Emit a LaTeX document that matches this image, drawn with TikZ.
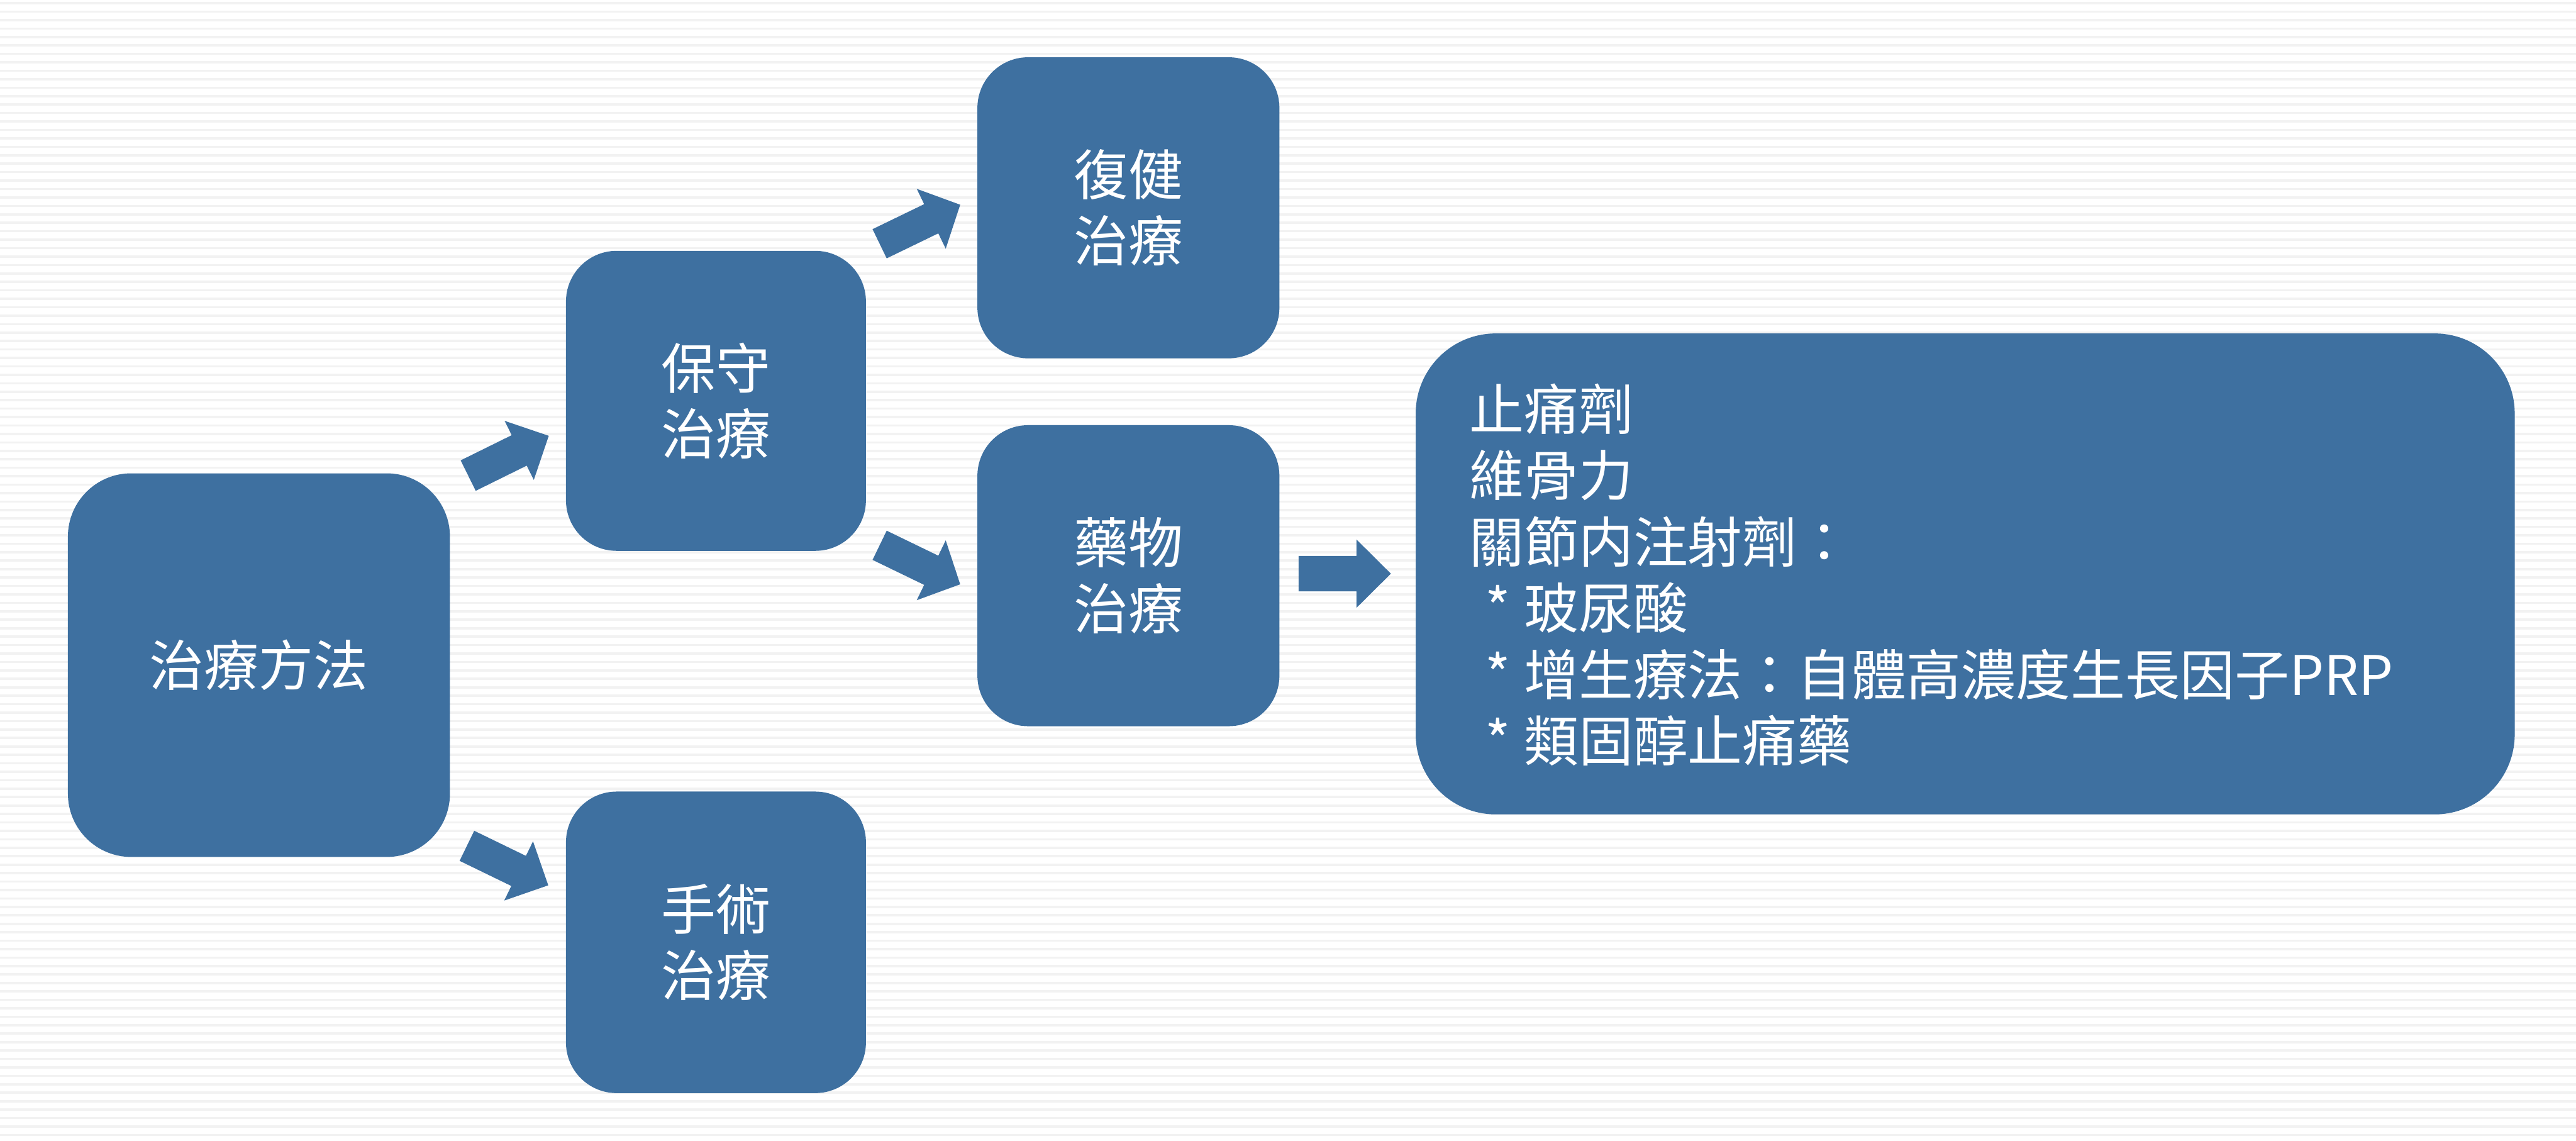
\documentclass[tikz,border=0pt]{standalone}
\usepackage{fontspec}
\newfontfamily\cjk{Noto Sans CJK TC}
\usetikzlibrary{calc}
\definecolor{boxblue}{RGB}{62,112,160}
\definecolor{stripegray}{RGB}{242,242,242}
% block arrow: #1 tail, #2 tip, #3 shaft half width, #4 head half width, #5 head length
\newcommand\blockarrow[5]{%
  \coordinate (ba) at ($(#2)!#5!(#1)$);
  \fill[boxblue] ($(#1)!#3!90:(#2)$) -- ($(ba)!#3!-90:(#1)$) -- ($(ba)!#4!-90:(#1)$) -- (#2)
    -- ($(ba)!#4!90:(#1)$) -- ($(ba)!#3!90:(#1)$) -- ($(#1)!#3!-90:(#2)$) -- cycle;}
\newcommand\starbul{\makebox[1.08cm][l]{\hspace{0.31cm}*}}
\begin{document}
\begin{tikzpicture}[x=1cm,y=1cm,
  cjkfont/.style={font=\cjk\fontsize{30.7pt}{37pt}\selectfont},
  tbox/.style={fill=boxblue, rounded corners=1cm, inner sep=0pt,
    minimum width=5.92cm, minimum height=5.92cm, text=white, align=center, cjkfont},
  ltext/.style={anchor=base west, inner sep=0pt, text=white, cjkfont}]
\useasboundingbox (0,0) rectangle (50.84,-22.51);
\fill[white] (0,0) rectangle (50.84,-22.51);
\foreach \i in {0,...,134} {
  \fill[stripegray] (0,{-0.04-0.166667*\i}) rectangle (50.84,{-0.085-0.166667*\i});
}
% arrows
\coordinate (a1t) at (9.24,-9.385);  \coordinate (a1h) at (10.83,-8.60);
\coordinate (a2t) at (17.36,-4.81);  \coordinate (a2h) at (18.95,-4.04);
\coordinate (a3t) at (9.215,-16.69); \coordinate (a3h) at (10.82,-17.47);
\coordinate (a4t) at (17.36,-10.76); \coordinate (a4h) at (18.95,-11.53);
\coordinate (a5t) at (25.63,-11.32); \coordinate (a5h) at (27.45,-11.32);
\blockarrow{a1t}{a1h}{0.335cm}{0.65cm}{0.65cm}
\blockarrow{a2t}{a2h}{0.32cm}{0.656cm}{0.635cm}
\blockarrow{a3t}{a3h}{0.33cm}{0.65cm}{0.65cm}
\blockarrow{a4t}{a4h}{0.32cm}{0.656cm}{0.635cm}
\blockarrow{a5t}{a5h}{0.35cm}{0.675cm}{0.68cm}
% boxes
\node[tbox, minimum width=7.54cm, minimum height=7.57cm, rounded corners=1.25cm] (root) at (5.11,-13.125) {治療方法};
\node[tbox] (cons) at (14.13,-7.91) {保守\\治療};
\node[tbox, minimum height=5.95cm] (surg) at (14.13,-18.595) {手術\\治療};
\node[tbox, minimum width=5.96cm, minimum height=5.94cm] (rehab) at (22.27,-4.10) {復健\\治療};
\node[tbox, minimum width=5.96cm, minimum height=5.94cm] (drug) at (22.27,-11.36) {藥物\\治療};
\node[tbox, minimum width=21.69cm, minimum height=9.49cm, rounded corners=1.58cm] (list) at (38.785,-11.325) {};
% list text
\node[ltext] (l1) at (28.99,-8.48) {止痛劑};
\node[ltext] (l2) at (28.99,-9.79) {維骨力};
\node[ltext] (l3) at (28.99,-11.10) {關節内注射劑：};
\node[ltext] (l4) at (28.99,-12.41) {\starbul 玻尿酸};
\node[ltext] (l5) at (28.99,-13.72) {\starbul 增生療法：自體高濃度生長因子PRP};
\node[ltext] (l6) at (28.99,-15.03) {\starbul 類固醇止痛藥};
\end{tikzpicture}
\end{document}
